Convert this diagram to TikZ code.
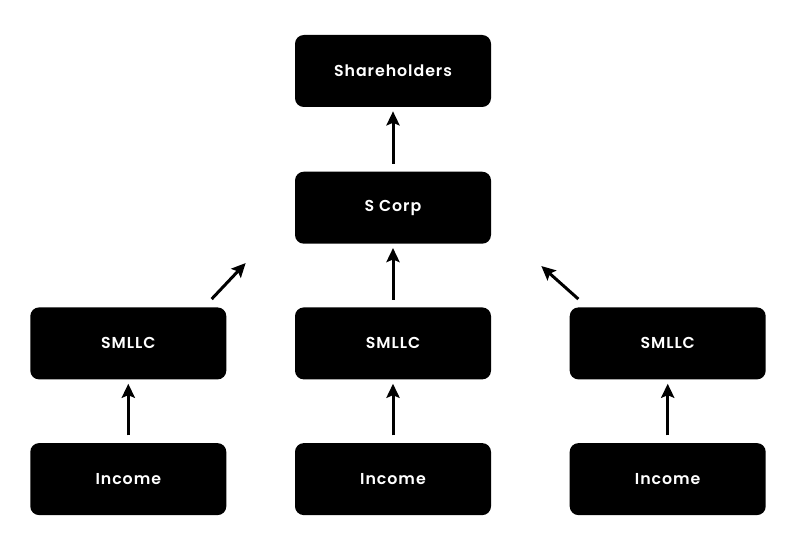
\documentclass[tikz,border=0pt]{standalone}
\usepackage{fontspec}
\setmainfont{Poppins}[LetterSpace=6, BoldFont={Poppins SemiBold}]
\usepackage{tikz}
\usetikzlibrary{arrows.meta, positioning}

\begin{document}
\begin{tikzpicture}[
  node distance=1.28cm,
  entity/.style={fill=black, text=white, rectangle, rounded corners=5pt,
                 minimum width=3.92cm, minimum height=1.44cm, align=center,
                 font=\fontsize{9}{11}\selectfont\bfseries},
  arr/.style={-{Stealth[length=8pt,width=7.5pt,inset=1.5pt]}, line width=1.7pt,
              shorten <=0.15cm, shorten >=0.08cm}
]
  \useasboundingbox (0,0) rectangle (16,-10.98);
  \node[entity] (share) at (7.86,-1.42) {Shareholders};
  \node[entity, below=of share] (scorp) {S Corp};
  \node[entity, below=1.26cm of scorp] (sm2) {SMLLC};
  \node[entity, left=1.36cm of sm2] (sm1) {SMLLC};
  \node[entity, right=1.56cm of sm2] (sm3) {SMLLC};
  \node[entity, below=1.26cm of sm1] (inc1) {Income};
  \node[entity, below=1.26cm of sm2] (inc2) {Income};
  \node[entity, below=1.26cm of sm3] (inc3) {Income};

  % free ends of the two slanted arrows
  \coordinate (a1) at ([xshift=-0.3cm,yshift=0.16cm]sm1.north east);
  \coordinate (b1) at ([xshift=-0.98cm,yshift=-0.38cm]scorp.south west);
  \coordinate (a3) at ([xshift=0.18cm,yshift=0.16cm]sm3.north west);
  \coordinate (b3) at ([xshift=1.0cm,yshift=-0.44cm]scorp.south east);

  \draw[arr] (scorp) -- (share);
  \draw[arr] (sm2) -- (scorp);
  \draw[arr, shorten <=0pt, shorten >=0pt] (a1) -- (b1);
  \draw[arr, shorten <=0pt, shorten >=0pt] (a3) -- (b3);
  \draw[arr] (inc1) -- (sm1);
  \draw[arr] (inc2) -- (sm2);
  \draw[arr] (inc3) -- (sm3);
\end{tikzpicture}
\end{document}
